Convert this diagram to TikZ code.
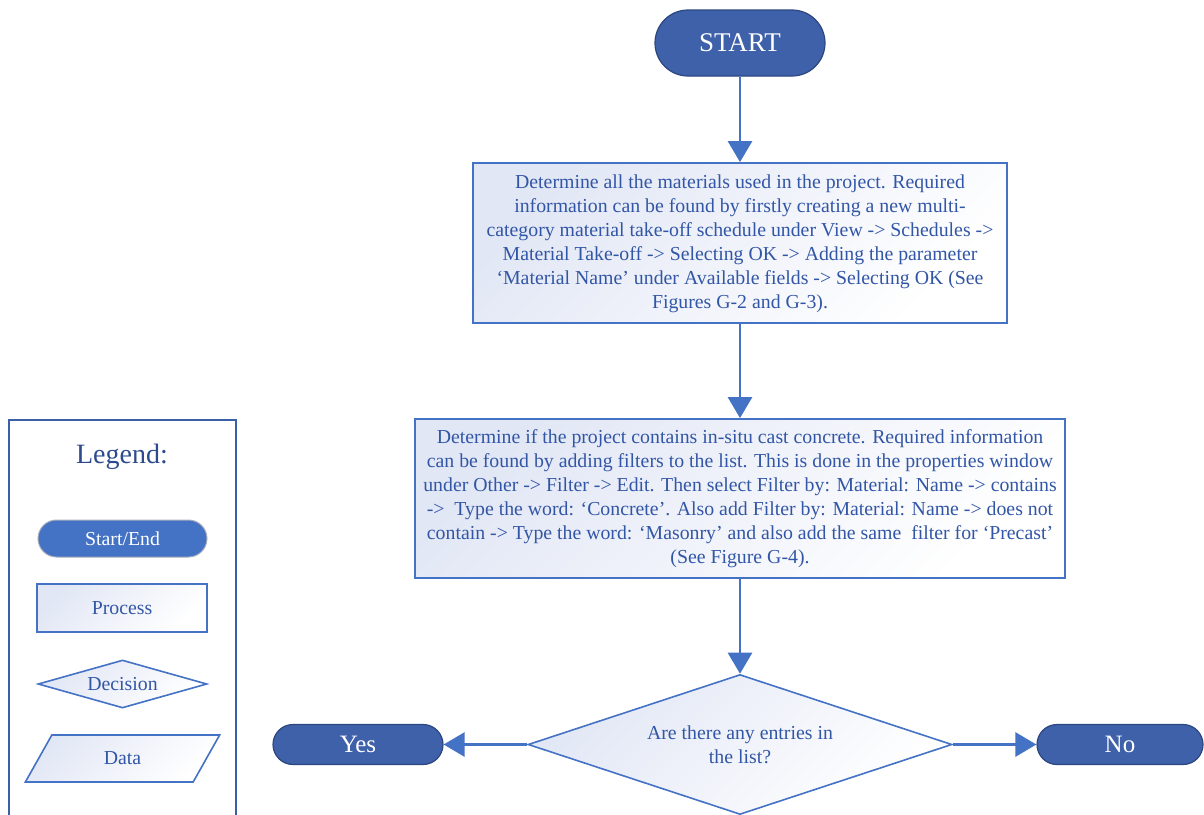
\documentclass[tikz,border=0pt]{standalone}
\usepackage{fontspec}
\setmainfont{Liberation Serif}
\usetikzlibrary{arrows.meta,shapes.geometric}

\definecolor{flowblue}{RGB}{68,114,196}
\definecolor{pillblue}{RGB}{62,97,170}
\definecolor{pilledge}{RGB}{44,70,128}
\definecolor{inkblue}{RGB}{50,86,166}
\definecolor{titleblue}{RGB}{44,74,140}
\definecolor{shadeblue}{RGB}{226,231,245}
\definecolor{greyedge}{RGB}{168,174,188}

\begin{document}
\begin{tikzpicture}[x=1pt,y=-1pt,
  bodyfont/.style={font=\fontsize{19.8}{24}\selectfont},
  pill/.style={rectangle, draw=pilledge, line width=1.2pt, fill=pillblue,
    text=white, inner sep=0pt},
  procbox/.style={rectangle, draw=flowblue, line width=1.8pt,
    top color=shadeblue, bottom color=white, shading angle=45,
    text=inkblue, align=center, inner sep=0pt, bodyfont},
  decbox/.style={diamond, draw=flowblue, line width=1.6pt,
    top color=shadeblue, bottom color=white, shading angle=45,
    text=inkblue, align=center, inner sep=0pt, bodyfont},
  flow/.style={draw=flowblue, line width=2.8pt,
    -{Triangle[width=24pt,length=21pt]}},
]
\useasboundingbox (0,0) rectangle (1204,814);

% main flow
\node[pill, rounded corners=33pt, minimum width=170pt, minimum height=66pt,
  font=\fontsize{27}{30}\selectfont] (start) at (740,43) {START};

\node[procbox, minimum width=534pt, minimum height=160pt, text depth=3pt] (gather) at (740,243)
  {Determine all the materials used in the project. Required\\
   information can be found by firstly creating a new multi-\\
   category material take-off schedule under View -> Schedules ->\\
   Material Take-off -> Selecting OK -> Adding the parameter\\
   ‘Material Name’ under Available fields -> Selecting OK (See\\
   Figures G-2 and G-3).};

\node[procbox, minimum width=650pt, minimum height=159pt, text depth=3pt] (filter) at (740,498.5)
  {Determine if the project contains in-situ cast concrete. Required information\\
   can be found by adding filters to the list. This is done in the properties window\\
   under Other -> Filter -> Edit. Then select Filter by: Material: Name -> contains\\
   ->\ \ Type the word: ‘Concrete’. Also add Filter by: Material: Name -> does not\\
   contain -> Type the word: ‘Masonry’ and also add the same\ \ filter for ‘Precast’\\
   (See Figure G-4).};

\node[decbox, aspect=3, minimum width=424pt, minimum height=140pt] (entries) at (740,744.5)
  {Are there any entries in\\ the list?};

\node[pill, rounded corners=20pt, minimum width=170pt, minimum height=40pt,
  font=\fontsize{25}{28}\selectfont] (yes) at (358,744.5) {Yes};
\node[pill, rounded corners=20pt, minimum width=166pt, minimum height=40pt,
  font=\fontsize{25}{28}\selectfont] (no) at (1120,744.5) {No};

\draw[flow] (start) -- (gather);
\draw[flow] (gather) -- (filter);
\draw[flow] (filter) -- (entries);
\draw[flow] (entries.west) -- (yes.east);
\draw[flow] (entries.east) -- (no.west);

% legend
\node[rectangle, draw=flowblue!85!black, line width=1.8pt,
  minimum width=227pt, minimum height=410pt] (legend) at (122.5,625) {};
\node[text=titleblue, font=\fontsize{28}{30}\selectfont] (legendtitle) at (122,457) {Legend:};
\node[rectangle, rounded corners=18.5pt, draw=greyedge, line width=1pt, fill=flowblue,
  text=white, minimum width=169pt, minimum height=37pt, inner sep=0pt,
  bodyfont] (lstart) at (122.5,538.5) {Start/End};
\node[procbox, line width=1.6pt, minimum width=170pt, minimum height=48pt] (lproc) at (122,608) {Process};
\node[decbox, aspect=3.5, minimum width=169pt, minimum height=48pt] (ldec) at (122.5,684) {Decision};
\node[trapezium, trapezium left angle=62, trapezium right angle=118,
  trapezium stretches=true, draw=flowblue, line width=1.6pt,
  top color=shadeblue, bottom color=white, shading angle=45,
  text=inkblue, inner sep=0pt, minimum width=195pt, minimum height=47pt,
  bodyfont] (ldata) at (122.5,758.5) {Data};
\end{tikzpicture}
\end{document}
